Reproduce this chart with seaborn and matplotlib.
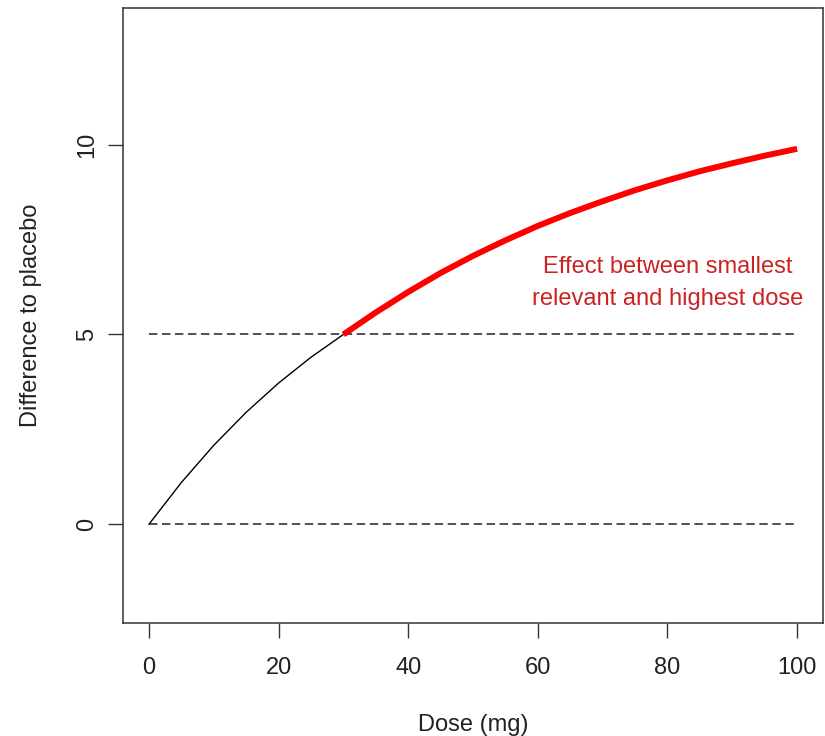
import numpy as np
import pandas as pd
import matplotlib
matplotlib.use("Agg")
import matplotlib.pyplot as plt
import seaborn as sns

# Dose-response curve (dose in mg, difference to placebo)
dose = [0, 5, 10, 15, 20, 25, 30, 35, 40, 45, 50, 55, 60, 65, 70, 75, 80, 85, 90, 95, 100]
effect = [0.0, 1.10, 2.08, 2.95, 3.72, 4.40, 5.00, 5.58, 6.12, 6.62, 7.07, 7.48, 7.86,
          8.20, 8.51, 8.80, 9.06, 9.30, 9.51, 9.71, 9.89]

relevant_dose = 30          # smallest relevant dose
reference_levels = [0, 5]   # placebo level and clinically relevant effect
x_ticks = [0, 20, 40, 60, 80, 100]
y_ticks = [0, 5, 10]
x_range = [0, 100]
y_range = [-2, 13]
note = "Effect between smallest\nrelevant and highest dose"
note_pos = (80, 6.35)

sns.set_style("white")
plt.rcParams["font.family"] = ["Liberation Sans", "DejaVu Sans"]

df = pd.DataFrame({"dose": dose, "effect": effect})
low = df[df["dose"] <= relevant_dose]
high = df[df["dose"] >= relevant_dose]

fig = plt.figure(figsize=(8.25, 7.36), dpi=100)
ax = fig.add_axes([123 / 825, 1 - 623 / 736, 700 / 825, 615 / 736])

# reference levels
ax.hlines(reference_levels, x_range[0], x_range[1], colors="#222222",
          linewidth=1.1, linestyles=(0, (5.5, 3.0)))

sns.lineplot(data=low, x="dose", y="effect", ax=ax, color="black",
             linewidth=1.0, sort=False, estimator=None)
sns.lineplot(data=high, x="dose", y="effect", ax=ax, color="#FF0000",
             linewidth=4.3, sort=False, estimator=None,
             solid_capstyle="butt", solid_joinstyle="round")

ax.text(note_pos[0], note_pos[1], note, color="#CC2222", fontsize=17,
        ha="center", va="center", linespacing=1.6)

xpad = 0.04 * (x_range[1] - x_range[0])
ypad = 0.04 * (y_range[1] - y_range[0])
ax.set_xlim(x_range[0] - xpad, x_range[1] + xpad)
ax.set_ylim(y_range[0] - ypad, y_range[1] + ypad)
ax.set_xticks(x_ticks)
ax.set_yticks(y_ticks)
ax.set_xticklabels([str(t) for t in x_ticks])
ax.set_yticklabels([str(t) for t in y_ticks], rotation=90, va="center")

for s in ax.spines.values():
    s.set_visible(True)
    s.set_color("#333333")
    s.set_linewidth(1.1)

ax.tick_params(axis="both", direction="out", length=10.8, width=1.0,
               color="#333333", labelsize=17, labelcolor="#222222",
               bottom=True, left=True, top=False, right=False)
ax.tick_params(axis="x", pad=14)
ax.tick_params(axis="y", pad=7)

ax.set_xlabel("Dose (mg)", fontsize=17, color="#222222", labelpad=25)
ax.set_ylabel("Difference to placebo", fontsize=17, color="#222222", labelpad=25)

fig.savefig("out.png", dpi=100, facecolor="white")
